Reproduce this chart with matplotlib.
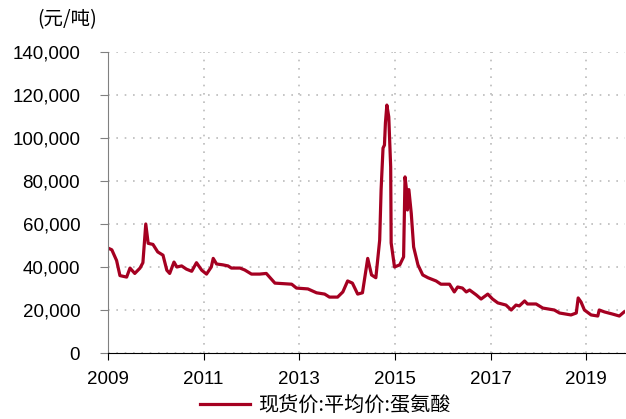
import matplotlib.pyplot as plt
from matplotlib.ticker import FuncFormatter

plt.rcParams['font.family'] = ['Noto Sans CJK SC', 'DejaVu Sans']

# decimal year / price (yuan per ton)
years = [2009.00, 2009.08, 2009.18, 2009.25, 2009.39, 2009.46, 2009.56, 2009.67, 2009.73, 2009.79,
         2009.84, 2009.94, 2010.04, 2010.15, 2010.23, 2010.29, 2010.38, 2010.44, 2010.54, 2010.64,
         2010.75, 2010.85, 2010.96, 2011.06, 2011.16, 2011.20, 2011.27, 2011.40, 2011.51, 2011.58,
         2011.76, 2011.86, 2012.00, 2012.17, 2012.31, 2012.49, 2012.84, 2012.94, 2013.18, 2013.36,
         2013.53, 2013.63, 2013.80, 2013.91, 2014.01, 2014.11, 2014.22, 2014.32, 2014.43, 2014.51,
         2014.60, 2014.68, 2014.71, 2014.75, 2014.78, 2014.80, 2014.83, 2014.87, 2014.91, 2014.92,
         2014.99, 2015.10, 2015.18, 2015.21, 2015.24, 2015.26, 2015.29, 2015.34, 2015.39, 2015.48,
         2015.58, 2015.69, 2015.86, 2015.96, 2016.14, 2016.24, 2016.31, 2016.41, 2016.49, 2016.56,
         2016.70, 2016.80, 2016.94, 2017.04, 2017.15, 2017.32, 2017.43, 2017.53, 2017.60, 2017.71,
         2017.77, 2017.95, 2018.09, 2018.33, 2018.44, 2018.68, 2018.79, 2018.83, 2018.89, 2018.96,
         2019.10, 2019.24, 2019.27, 2019.38, 2019.55, 2019.69, 2019.79]
prices = [48800, 48000, 43000, 36000, 35300, 39500, 37000, 39500, 42000, 60000,
          51000, 50500, 47000, 45500, 38500, 37000, 42300, 40000, 40500, 39000,
          38000, 42000, 38500, 36700, 40000, 44000, 41400, 41000, 40500, 39500,
          39500, 38600, 36700, 36700, 37000, 32500, 32000, 30200, 29800, 28000,
          27400, 26000, 26000, 28400, 33500, 32500, 27400, 28000, 44000, 36300,
          35000, 52500, 76000, 95300, 96700, 107000, 115300, 109800, 86500, 51200,
          40000, 41000, 44700, 81900, 76000, 66500, 76000, 65000, 49300, 41000,
          36300, 35000, 33500, 32000, 32000, 28400, 30700, 30200, 28400, 29300,
          27000, 25100, 27400, 25100, 23300, 22300, 20000, 22300, 21900, 24200,
          22800, 22800, 20900, 20000, 18600, 17700, 18600, 25600, 23700, 20000,
          17700, 17200, 20000, 19100, 18100, 17200, 19100]

fig = plt.figure(figsize=(6.26, 4.19), dpi=100)
ax = fig.add_axes([0.1725, 0.1575, 0.826, 0.7185])

ax.plot(years, prices, color='#A50021', lw=2.3, label='现货价:平均价:蛋氨酸')

ax.set_xlim(2009, 2019.81)
ax.set_ylim(0, 140000)
ax.set_xticks([2009, 2011, 2013, 2015, 2017, 2019])
ax.set_yticks(range(0, 140001, 20000))
ax.yaxis.set_major_formatter(FuncFormatter(lambda v, p: f'{int(v):,}'))

ax.grid(True, color='#BBBBBB', linestyle=(0, (1, 4)), lw=1.2)
for s in ['top', 'right']:
    ax.spines[s].set_visible(False)
ax.spines['left'].set_color('#808080')
ax.spines['bottom'].set_color('black')
ax.tick_params(axis='y', colors='#808080', labelcolor='black', length=6, pad=14)
ax.tick_params(axis='x', length=5, pad=8)
for lab in ax.get_yticklabels():
    lab.set_fontfamily('Liberation Sans')
    lab.set_fontsize(13.5)
for lab in ax.get_xticklabels():
    lab.set_fontfamily('Liberation Sans')
    lab.set_fontsize(13.5)

fig.text(0.059, 0.952, '(元/吨)', fontsize=14, va='center')

fig.legend(loc='center', bbox_to_anchor=(0.52, 0.032), frameon=False, borderaxespad=0,
           fontsize=14.5, handlelength=2.5, handletextpad=0.4)

fig.savefig('out.png', dpi=100)
